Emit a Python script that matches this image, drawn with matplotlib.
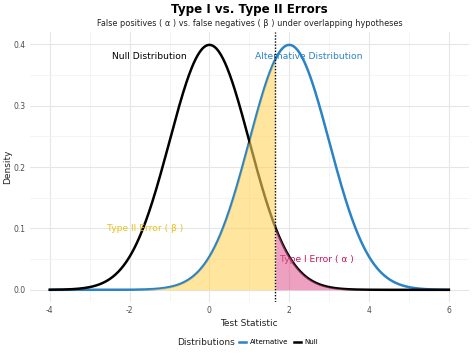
import numpy as np
import matplotlib
matplotlib.use("Agg")
import matplotlib.pyplot as plt
from matplotlib.lines import Line2D

# distribution parameters
null_mean, null_sd = 0.0, 1.0
alt_mean, alt_sd = 2.0, 1.0
critical_value = 1.645
x_range = (-4, 6)

x_ticks = [-4, -2, 0, 2, 4, 6]
y_ticks = [0.0, 0.1, 0.2, 0.3, 0.4]
legend_labels = ["Alternative", "Null"]

BLUE = "#2B83C6"
YELLOW_FILL = "#FFD45C"
YELLOW_TEXT = "#E8C21A"
PINK_FILL = "#E0528F"
PINK_TEXT = "#C2185B"


def normal_pdf(x, mu, sd):
    return np.exp(-0.5 * ((x - mu) / sd) ** 2) / (sd * np.sqrt(2 * np.pi))


x = np.linspace(x_range[0], x_range[1], 600)
null_y = normal_pdf(x, null_mean, null_sd)
alt_y = normal_pdf(x, alt_mean, alt_sd)

fig = plt.figure(figsize=(4.74, 3.55), dpi=100)
ax = fig.add_axes([0.063, 0.149, 0.926, 0.761])

ax.plot(x, alt_y, color=BLUE, linewidth=1.8, zorder=3)
ax.plot(x, null_y, color="black", linewidth=1.8, zorder=3)

# shaded error regions on top of the curves
beta = x <= critical_value
ax.fill_between(x[beta], 0, alt_y[beta], color=YELLOW_FILL, alpha=0.6,
                linewidth=0, zorder=4)
alpha_reg = x >= critical_value
ax.fill_between(x[alpha_reg], 0, null_y[alpha_reg], color=PINK_FILL, alpha=0.55,
                linewidth=0, zorder=4)

ax.axvline(critical_value, color="black", linestyle=(0, (1, 1.2)), linewidth=1.0, zorder=5)

ax.text(-1.5, 0.38, "Null Distribution", ha="center", va="center", fontsize=6.6, color="black")
ax.text(2.5, 0.38, "Alternative Distribution", ha="center", va="center", fontsize=6.6, color=BLUE)
ax.text(-1.6, 0.10, "Type II Error ( β )", ha="center", va="center", fontsize=6.6, color=YELLOW_TEXT)
ax.text(2.7, 0.05, "Type I Error ( α )", ha="center", va="center", fontsize=6.6, color=PINK_TEXT)

ax.set_xlim(-4.5, 6.5)
ax.set_ylim(-0.02, 0.42)
ax.set_xticks(x_ticks)
ax.set_yticks(y_ticks)
ax.set_xticks([-3, -1, 1, 3, 5], minor=True)
ax.set_yticks([0.05, 0.15, 0.25, 0.35], minor=True)
ax.set_xticklabels([str(t) for t in x_ticks])
ax.set_yticklabels([f"{t:.1f}" for t in y_ticks])
ax.grid(True, which="major", color="#E6E6E6", linewidth=0.8)
ax.grid(True, which="minor", color="#F2F2F2", linewidth=0.6)
ax.set_axisbelow(True)
ax.tick_params(which="both", length=0, labelsize=5.5, colors="#4D4D4D", pad=3)
for s in ax.spines.values():
    s.set_visible(False)

ax.set_xlabel("Test Statistic", fontsize=6.5, color="#222222", labelpad=3)
ax.set_ylabel("Density", fontsize=6.5, color="#222222")
ax.yaxis.set_label_coords(-0.04, 0.5)

# title and subtitle centred over the panel
fig.text(0.527, 0.972, "Type I vs. Type II Errors", ha="center", va="center",
         fontsize=8.6, fontweight="bold")
fig.text(0.527, 0.934, "False positives ( α ) vs. false negatives ( β ) under overlapping hypotheses",
         ha="center", va="center", fontsize=5.9, color="#222222")

# legend at the bottom: title on the same row as the keys
fig.text(0.373, 0.036, "Distributions", ha="left", va="center", fontsize=6.5, color="#222222")
handles = [Line2D([], [], color=BLUE, linewidth=1.8),
           Line2D([], [], color="black", linewidth=1.8)]
fig.legend(handles, legend_labels, loc="center left", bbox_to_anchor=(0.505, 0.036),
           ncol=2, frameon=False, fontsize=5, handlelength=1.0, handletextpad=0.5,
           columnspacing=0.8, borderaxespad=0, borderpad=0)

fig.savefig("out.png", dpi=100, facecolor="white")
